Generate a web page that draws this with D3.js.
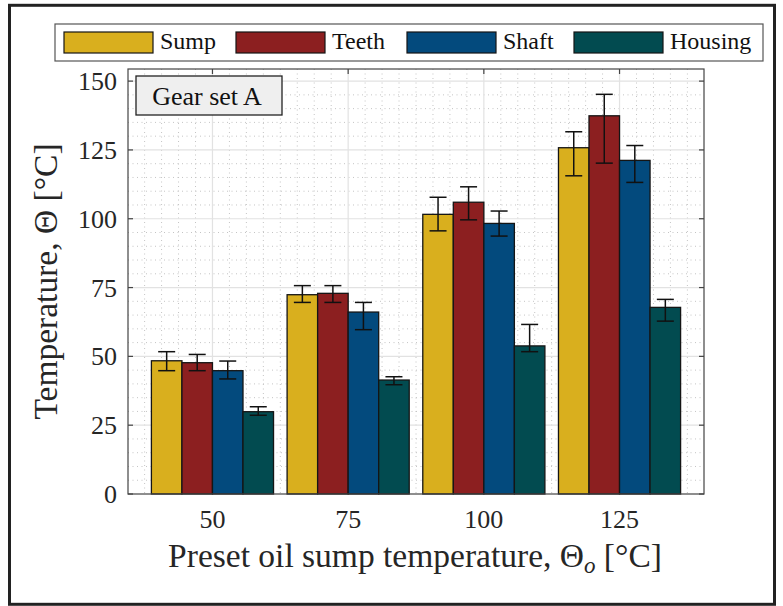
<!DOCTYPE html>
<html>
<head>
<meta charset="utf-8">
<script src="https://cdn.jsdelivr.net/npm/d3@7"></script>
<style>
  html, body { margin: 0; padding: 0; background: #fff; }
</style>
</head>
<body>
<svg id="chart" width="783" height="606" font-family="'Liberation Serif', 'DejaVu Serif', serif"></svg>
<script>
// Categories and series
const categories = ["50", "75", "100", "125"];
const seriesNames = ["Sump", "Teeth", "Shaft", "Housing"];
const seriesColors = ["#d9af1e", "#8c1f20", "#034a7d", "#024b50"];

// Mean temperatures [°C]
const sump = [48.4, 72.4, 101.6, 125.8];
const teeth = [47.7, 72.9, 106.0, 137.4];
const shaft = [44.8, 66.1, 98.3, 121.2];
const housing = [29.9, 41.4, 53.8, 67.8];

// Error bar limits (upper / lower) [°C]
const sumpHi = [51.7, 75.7, 107.8, 131.6];
const sumpLo = [44.8, 69.6, 95.6, 115.6];
const teethHi = [50.7, 75.7, 111.6, 145.2];
const teethLo = [44.8, 69.6, 99.6, 120.2];
const shaftHi = [48.3, 69.6, 102.8, 126.6];
const shaftLo = [41.8, 59.7, 93.7, 113.2];
const housingHi = [31.7, 42.6, 61.6, 70.7];
const housingLo = [28.6, 39.7, 51.7, 62.8];

const yTicks = [0, 25, 50, 75, 100, 125, 150];

const values = [sump, teeth, shaft, housing];
const highs = [sumpHi, teethHi, shaftHi, housingHi];
const lows = [sumpLo, teethLo, shaftLo, housingLo];

const rows = [];
categories.forEach((c, i) => {
  seriesNames.forEach((s, j) => {
    rows.push({ cat: c, series: s, color: seriesColors[j], v: values[j][i], hi: highs[j][i], lo: lows[j][i] });
  });
});

const svg = d3.select("#chart");
const plot = { left: 128, right: 704, top: 69, bottom: 494 };

const x = d3.scaleBand().domain(categories).range([plot.left, plot.right]).paddingInner(0).paddingOuter(0.1225);
const step = x.step();
const xs = d3.scaleBand().domain(seriesNames).range([0.05 * step, 0.95 * step]).padding(0);
const y = d3.scaleLinear().domain([0, 154.4]).range([plot.bottom, plot.top]);

const ink = "#262626";

// outer frame
svg.append("rect")
  .attr("x", 9.5).attr("y", 5.3).attr("width", 765).attr("height", 599)
  .attr("fill", "#fff").attr("stroke", "#222").attr("stroke-width", 3);

const g = svg.append("g");

// minor grid (dotted)
const minorY = d3.range(5, 155, 5).filter((d) => d % 25 !== 0);
g.selectAll("line.minor-y").data(minorY).join("line")
  .attr("x1", plot.left).attr("x2", plot.right)
  .attr("y1", (d) => y(d)).attr("y2", (d) => y(d))
  .attr("stroke", "#c4c4c4").attr("stroke-width", 1).attr("stroke-dasharray", "1,3.5");

const minorX = [];
categories.forEach((c) => {
  const cx = x(c) + step / 2;
  for (let k = -5; k <= 5; k++) {
    if (k === 0) continue;
    const px = cx + (k * step) / 8;
    if (px > plot.left + 1 && px < plot.right - 1 && !minorX.some((m) => Math.abs(m - px) < 2)) minorX.push(px);
  }
});
g.selectAll("line.minor-x").data(minorX).join("line")
  .attr("x1", (d) => d).attr("x2", (d) => d)
  .attr("y1", plot.top).attr("y2", plot.bottom)
  .attr("stroke", "#c4c4c4").attr("stroke-width", 1).attr("stroke-dasharray", "1,3.5");

// major grid
g.selectAll("line.major-y").data(yTicks.slice(1)).join("line")
  .attr("x1", plot.left).attr("x2", plot.right)
  .attr("y1", (d) => y(d)).attr("y2", (d) => y(d))
  .attr("stroke", "#e2e2e2").attr("stroke-width", 1.2);
g.selectAll("line.major-x").data(categories).join("line")
  .attr("x1", (d) => x(d) + step / 2).attr("x2", (d) => x(d) + step / 2)
  .attr("y1", plot.top).attr("y2", plot.bottom)
  .attr("stroke", "#e2e2e2").attr("stroke-width", 1.2);

// bars
g.selectAll("rect.bar").data(rows).join("rect")
  .attr("x", (d) => x(d.cat) + xs(d.series))
  .attr("y", (d) => y(d.v))
  .attr("width", xs.bandwidth())
  .attr("height", (d) => y(0) - y(d.v))
  .attr("fill", (d) => d.color)
  .attr("stroke", "#151515").attr("stroke-width", 1.3);

// error bars
const capW = 8.5;
const eb = g.selectAll("g.err").data(rows).join("g")
  .attr("transform", (d) => `translate(${x(d.cat) + xs(d.series) + xs.bandwidth() / 2},0)`)
  .attr("stroke", "#111").attr("stroke-width", 1.5);
eb.append("line").attr("y1", (d) => y(d.lo)).attr("y2", (d) => y(d.hi));
eb.append("line").attr("x1", -capW).attr("x2", capW).attr("y1", (d) => y(d.hi)).attr("y2", (d) => y(d.hi));
eb.append("line").attr("x1", -capW).attr("x2", capW).attr("y1", (d) => y(d.lo)).attr("y2", (d) => y(d.lo));

// axes box
g.append("rect")
  .attr("x", plot.left).attr("y", plot.top)
  .attr("width", plot.right - plot.left).attr("height", plot.bottom - plot.top)
  .attr("fill", "none").attr("stroke", "#444").attr("stroke-width", 1.2);

// ticks (inward)
const tickLen = 5;
g.selectAll("line.yt-l").data(yTicks).join("line")
  .attr("x1", plot.left).attr("x2", plot.left + tickLen)
  .attr("y1", (d) => y(d)).attr("y2", (d) => y(d))
  .attr("stroke", "#444").attr("stroke-width", 1.2);
g.selectAll("line.yt-r").data(yTicks).join("line")
  .attr("x1", plot.right).attr("x2", plot.right - tickLen)
  .attr("y1", (d) => y(d)).attr("y2", (d) => y(d))
  .attr("stroke", "#444").attr("stroke-width", 1.2);
g.selectAll("line.xt-t").data(categories).join("line")
  .attr("x1", (d) => x(d) + step / 2).attr("x2", (d) => x(d) + step / 2)
  .attr("y1", plot.top).attr("y2", plot.top + tickLen)
  .attr("stroke", "#444").attr("stroke-width", 1.2);

// tick labels
g.selectAll("text.ytl").data(yTicks).join("text")
  .attr("x", 117).attr("y", (d) => y(d) + 9)
  .attr("text-anchor", "end").attr("font-size", 26).attr("fill", ink)
  .text((d) => d);
g.selectAll("text.xtl").data(categories).join("text")
  .attr("x", (d) => x(d) + step / 2).attr("y", 528)
  .attr("text-anchor", "middle").attr("font-size", 26).attr("fill", ink)
  .text((d) => d);

// axis labels
const xl = svg.append("text")
  .attr("x", (plot.left + plot.right) / 2 - 1).attr("y", 567)
  .attr("text-anchor", "middle").attr("font-size", 33.5).attr("fill", ink);
xl.append("tspan").text("Preset oil sump temperature, Θ");
xl.append("tspan").attr("font-style", "italic").attr("font-size", 23).attr("dy", 6).text("o");
xl.append("tspan").attr("dy", -6).text(" [°C]");

svg.append("text")
  .attr("transform", `translate(57,${(plot.top + plot.bottom) / 2}) rotate(-90)`)
  .attr("text-anchor", "middle").attr("font-size", 33.5).attr("fill", ink)
  .text("Temperature, Θ [°C]");

// annotation box
svg.append("rect")
  .attr("x", 136).attr("y", 76).attr("width", 146).attr("height", 39)
  .attr("fill", "#efefef").attr("stroke", "#222").attr("stroke-width", 1.3);
svg.append("text")
  .attr("x", 207).attr("y", 104.5).attr("text-anchor", "middle")
  .attr("font-size", 26).attr("fill", "#111").text("Gear set A");

// legend
svg.append("rect")
  .attr("x", 55).attr("y", 24).attr("width", 708).attr("height", 37)
  .attr("fill", "#fff").attr("stroke", "#555").attr("stroke-width", 1.2);
const legendX = [64, 236, 407, 574];
const lg = svg.selectAll("g.leg").data(seriesNames).join("g")
  .attr("transform", (d, i) => `translate(${legendX[i]},32)`);
lg.append("rect").attr("width", 89).attr("height", 21)
  .attr("fill", (d, i) => seriesColors[i]).attr("stroke", "#151515").attr("stroke-width", 1.2);
lg.append("text").attr("x", 96).attr("y", 16.5)
  .attr("font-size", 24).attr("fill", "#111").text((d) => d);
</script>
</body>
</html>
